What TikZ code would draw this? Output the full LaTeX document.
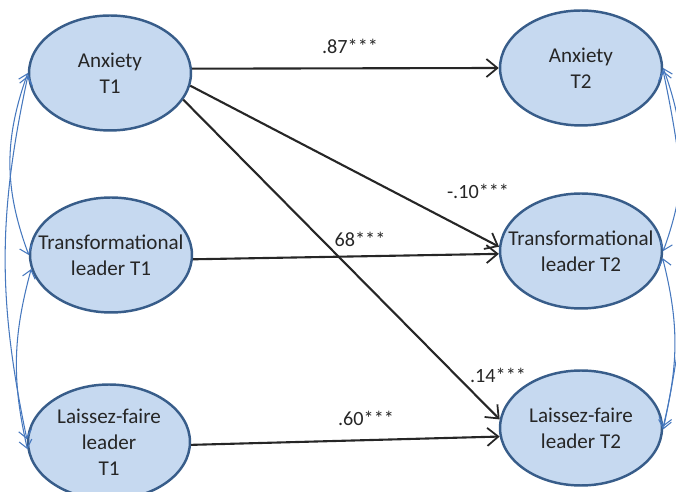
\documentclass[tikz,border=0pt]{standalone}
\usepackage{fontspec}
\setmainfont{Carlito}
\usetikzlibrary{arrows.meta,shapes.geometric,positioning}

\definecolor{ellfill}{RGB}{198,217,240}
\definecolor{ellborder}{RGB}{56,93,138}
\definecolor{covblue}{RGB}{70,120,190}
\tikzset{
  latent/.style={ellipse, draw=ellborder, fill=ellfill, line width=1.4pt,
    minimum width=3.24cm, minimum height=2.3cm, align=center,
    inner xsep=-0.34cm, inner ysep=0pt,
    font=\fontsize{12}{14.8}\selectfont, text=black!85},
  path/.style={-{Straight Barb[length=2.2mm,width=3.6mm,line width=1pt]}, line width=1.2pt, black!85},
  cov/.style={{Straight Barb[length=1.6mm,width=2.6mm]}-{Straight Barb[length=1.6mm,width=2.6mm]}, line width=0.6pt, covblue},
  coef/.style={font=\fontsize{11.5}{13}\selectfont, text=black!85}
}

\begin{document}
\begin{tikzpicture}[x=0.02cm,y=-0.02cm]
\useasboundingbox (0,0) rectangle (676,492);

% Time 1
\node[latent] (anx1) at (110,73) {Anxiety\\T1};
\node[latent] (tr1) at (111,255) {Transformational\\leader T1};
\node[latent] (lf1) at (109,442) {Laissez-faire\\leader\\T1};

% Time 2
\node[latent] (anx2) at (581,68) {Anxiety\\T2};
\node[latent] (tr2) at (581,251) {Transformational\\leader T2};
\node[latent] (lf2) at (581,428) {Laissez-faire\\leader T2};

% Paths
\draw[path] (anx1.3) -- (anx2.west);
\draw[path] (anx1.-9) -- (tr2.177);
\draw[path] (anx1.-20) -- (lf2.174);
\draw[path] (tr1.-3) -- (tr2.182);
\draw[path] (lf1.-2) -- (lf2.186);

% Coefficients
\node[coef] (c1) at (350,46) {.87***};
\node[coef] (c2) at (478,191) {-.10***};
\node[coef] (c3) at (360,239) {68***};
\node[coef] (c4) at (498,375) {.14***};
\node[coef] (c5) at (366,418) {.60***};

% Covariances T1
\draw[cov] (anx1.west) to[bend right=20] (tr1.west);
\draw[cov] (anx1.182) to[bend right=12] (lf1.178);
\draw[cov] (tr1.190) to[bend right=14] (lf1.185);

% Covariances T2
\draw[cov] (anx2.east) to[bend left=20] (tr2.east);
\draw[cov] (anx2.-2) to[bend left=12] (lf2.-1);
\draw[cov] (tr2.-5) to[bend left=14] (lf2.1);
\end{tikzpicture}
\end{document}
